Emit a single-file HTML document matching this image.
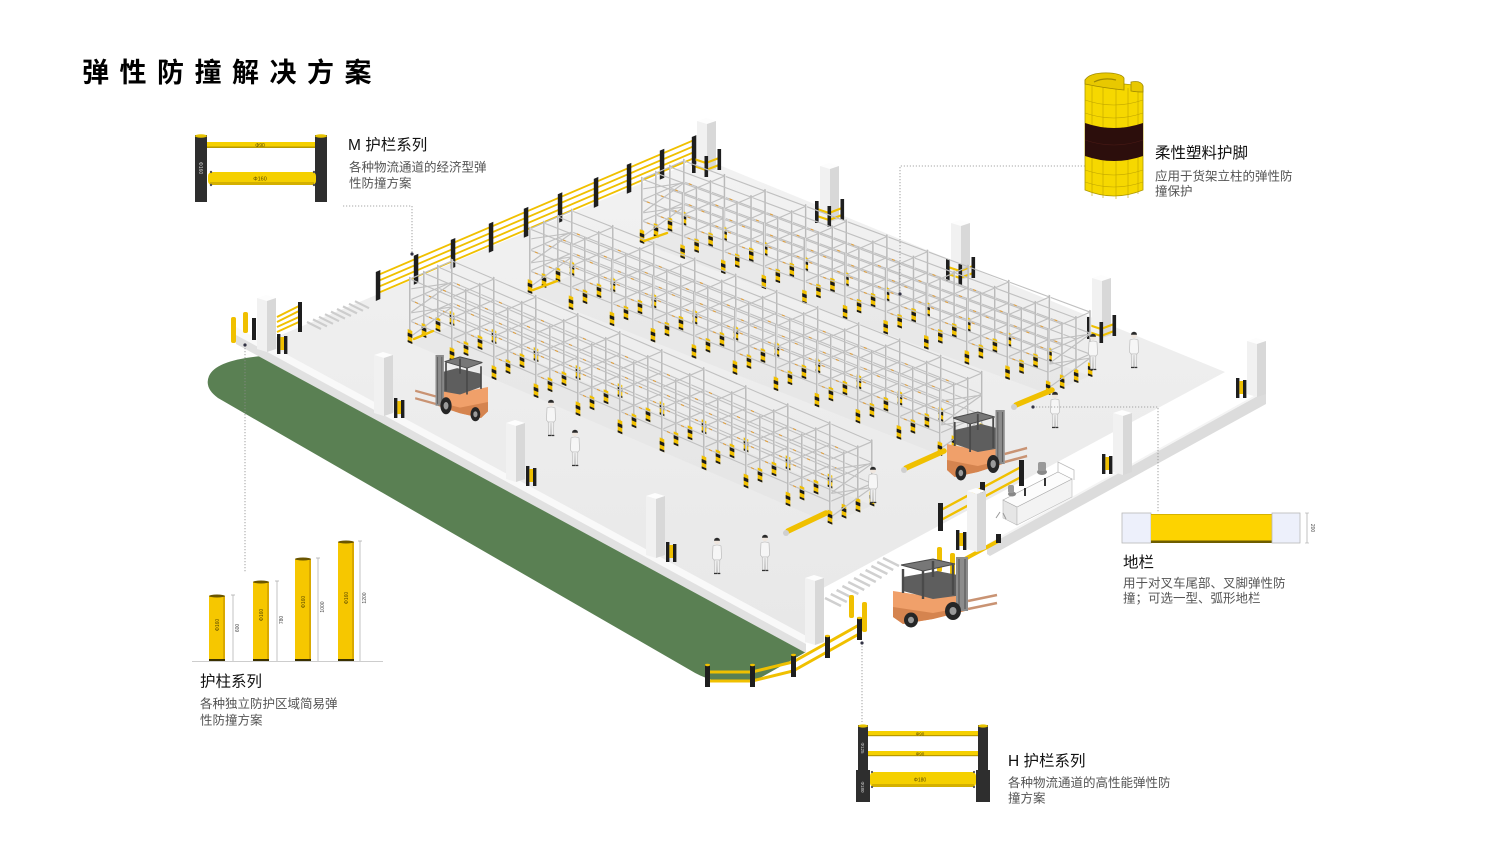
<!DOCTYPE html>
<html><head><meta charset="utf-8">
<style>
html,body{margin:0;padding:0;background:#fff;}
svg{display:block;}
text{font-family:"Liberation Sans","Noto Sans CJK SC",sans-serif;}
</style></head>
<body>
<svg width="1505" height="850" viewBox="0 0 1505 850" xmlns="http://www.w3.org/2000/svg" xmlns:xlink="http://www.w3.org/1999/xlink">
<defs>
<linearGradient id="flr" x1="0" y1="0" x2="0" y2="1">
<stop offset="0" stop-color="#f2f2f2"/><stop offset="1" stop-color="#e8e8e8"/>
</linearGradient>
<g id="up">
<line x1="0" y1="0" x2="0" y2="-66" stroke="#bababa" stroke-width="1.9"/>
<line x1="0.9" y1="-14" x2="0.9" y2="-66" stroke="#f7f7f7" stroke-width="0.6"/>
<rect x="-2.3" y="-13" width="4.6" height="13" fill="#f1c000"/>
<rect x="-2.3" y="-9.5" width="4.6" height="3.5" fill="#1b1b1b"/>
<rect x="-2.3" y="-2" width="4.6" height="2" fill="#1b1b1b"/>
</g>
<g id="row">
<path d="M0,-22H420M0,-43H420M0,-64H420" stroke="#c0c0c0" stroke-width="1.2" fill="none"/>
<path d="M5,-22H420M5,-43H420" stroke="#e0a040" stroke-width="1.2" stroke-dasharray="3 39" fill="none"/>
<use href="#up" x="0"/><use href="#up" x="42"/><use href="#up" x="84"/><use href="#up" x="126"/><use href="#up" x="168"/><use href="#up" x="210"/><use href="#up" x="252"/><use href="#up" x="294"/><use href="#up" x="336"/><use href="#up" x="378"/><use href="#up" x="420"/>
</g>
<g id="grd">
<path d="M-3,-14 L9,-10 L22,-15 M-3,-7 L9,-3 L22,-8" stroke="#f0c000" stroke-width="2.2" fill="none"/>
<rect x="-5" y="-22" width="3.6" height="22" fill="#1e1e1e"/>
<rect x="7.5" y="-17" width="3.6" height="21" fill="#1e1e1e"/>
<rect x="20.5" y="-24" width="3.6" height="21" fill="#1e1e1e"/>
</g>
<g id="grd2">
<rect x="0" y="-20" width="3.4" height="20" fill="#1e1e1e"/>
<rect x="3.4" y="-17" width="3.6" height="13" fill="#f0c000"/>
<rect x="7" y="-18" width="3.4" height="18" fill="#1e1e1e"/>
</g>
<g id="fk">
<polygon points="0,34 40,40 72,36 72,54 40,62 10,67 0,60" fill="#f0a06a"/>
<polygon points="0,50 40,56 72,50 72,54 40,62 10,67 0,60" fill="#d5844f"/>
<polygon points="10,20 44,14 70,19 70,38 40,42 10,34" fill="#5e5e5e"/>
<polygon points="8,8 40,2 62,7 30,14" fill="#777" stroke="#4a4a4a" stroke-width="1"/>
<path d="M10,12V36M30,14V42M60,8V38M40,4V20" stroke="#4a4a4a" stroke-width="2.4"/>
<rect x="63" y="0" width="12" height="54" fill="#8c8c8c"/>
<path d="M66,2V52M72,2V52" stroke="#5a5a5a" stroke-width="1.2"/>
<path d="M75,44 L104,38 M75,52 L104,46" stroke="#c99373" stroke-width="2.5"/>
<ellipse cx="18" cy="63" rx="7" ry="7.5" fill="#262626"/><ellipse cx="18" cy="63" rx="3" ry="3.2" fill="#9a9a9a"/>
<ellipse cx="60" cy="54" rx="8" ry="9" fill="#262626"/><ellipse cx="60" cy="54" rx="3.5" ry="4" fill="#9a9a9a"/>
</g>
<g id="ps">
<circle cx="5" cy="3.2" r="3" fill="#efe6de"/>
<path d="M2,2.8 A3,3 0 0 1 8,2.8 Z" fill="#2a2a2a"/>
<path d="M1,8 Q5,6 9,8 L9.5,20 L8,22 L2,22 L0.5,20 Z" fill="#f6f6f6" stroke="#b5b5b5" stroke-width="0.6"/>
<path d="M2.2,22 L2.5,35 L4.6,35 L5,23 L5.4,35 L7.6,35 L7.8,22 Z" fill="#efefef" stroke="#b5b5b5" stroke-width="0.6"/>
<path d="M2,35.5h3M5.3,35.5h3" stroke="#333" stroke-width="1.2"/>
</g>
</defs>

<rect width="1505" height="850" fill="#fff"/>

<!-- green area -->
<path d="M262,356 L806,652 L760,678 Q722,690 690,670 L218,398 Q204,388 209,376 Q216,360 262,356 Z" fill="#5a8053"/>

<!-- floor -->
<path d="M262,343 L702,158 L1225,372 L812,594 L806,636 Z" fill="url(#flr)"/>

<!-- front-left wall band -->
<path d="M236,327 L806,636 L806,644 L236,335 Z" fill="#f9f9f9"/>
<path d="M236,335 L806,644 L806,653 L236,344 Z" fill="#e1e1e1"/>

<!-- right wall -->
<path d="M987,545 L1263,392 L1266,394 L1266,404 L990,556 L987,554 Z" fill="#dcdcdc"/>
<path d="M987,545 L1263,392" stroke="#f4f4f4" stroke-width="2"/>

<!-- crosswalks -->
<path d="M307,322l14,7M313,319.4l14,7M319,316.8l14,7M325,314.2l14,7M331,311.6l14,7M337,309l14,7M343,306.4l14,7M349,303.8l14,7M355,301.2l14,7" stroke="#cdcdcd" stroke-width="2.2"/>
<path d="M825,598l16,8M830.8,594l16,8M836.6,590l16,8M842.4,586l16,8M848.2,582l16,8M854,578l16,8M859.8,574l16,8M865.6,570l16,8M871.4,566l16,8M877.2,562l16,8M883,558l16,8" stroke="#d0d0d0" stroke-width="2.5"/>

<!-- back M fence -->
<g transform="matrix(1 -0.427 0 1 378 300)">
<path d="M0,-25H318M0,-19H318M0,-13H318M0,-7H318" stroke="#f0c000" stroke-width="2" fill="none"/>
<g fill="#1e1e1e">
<rect x="-2.2" y="-29" width="4.5" height="29"/><rect x="35.8" y="-29" width="4.5" height="29"/><rect x="72.8" y="-29" width="4.5" height="29"/><rect x="110.8" y="-29" width="4.5" height="29"/><rect x="145.8" y="-29" width="4.5" height="29"/><rect x="179.8" y="-29" width="4.5" height="29"/><rect x="215.8" y="-29" width="4.5" height="29"/><rect x="248.8" y="-29" width="4.5" height="29"/><rect x="281.8" y="-29" width="4.5" height="29"/><rect x="313.8" y="-29" width="4.5" height="29"/>
</g>
</g>

<!-- back pillars -->
<g>
<path d="M697,121L706,118L716,121L707,124Z" fill="#fdfdfd"/><path d="M697,121L707,124L707,172L697,169Z" fill="#f1f1f1"/><path d="M707,124L716,121L716,169L707,172Z" fill="#d8d8d8"/>
<path d="M820,166L829,163L839,166L830,169Z" fill="#fdfdfd"/><path d="M820,166L830,169L830,222L820,219Z" fill="#f1f1f1"/><path d="M830,169L839,166L839,219L830,222Z" fill="#d8d8d8"/>
<path d="M951,223L960,220L970,223L961,226Z" fill="#fdfdfd"/><path d="M951,223L961,226L961,280L951,277Z" fill="#f1f1f1"/><path d="M961,226L970,223L970,277L961,280Z" fill="#d8d8d8"/>
<path d="M1092,278L1101,275L1111,278L1102,281Z" fill="#fdfdfd"/><path d="M1092,278L1102,281L1102,338L1092,335Z" fill="#f1f1f1"/><path d="M1102,281L1111,278L1111,335L1102,338Z" fill="#d8d8d8"/>
</g>
<use href="#grd" x="697" y="173"/>
<use href="#grd" x="820" y="223"/>
<use href="#grd" x="951" y="281"/>
<use href="#grd" x="1092" y="339"/>

<!-- rack footprints -->
<path d="M410,343 L830,523.6 L872,505.5 L452,325 Z" fill="#dcdcdc" opacity="0.3"/>
<path d="M530,293 L940,455 L982,437 L572,275 Z" fill="#dcdcdc" opacity="0.3"/>
<path d="M642,243 L1048,394 L1090,376 L684,225 Z" fill="#dcdcdc" opacity="0.3"/>

<!-- rack group B -->
<g transform="matrix(0.967 0.36 0 1 642 243)">
<use href="#row" x="43.44" y="-33.69"/>
<use href="#row" x="28.96" y="-22.46"/>
<use href="#row" x="14.48" y="-11.23"/>
<path d="M0,-64l43.4,-33.7M42,-64l43.4,-33.7M84,-64l43.4,-33.7M126,-64l43.4,-33.7M168,-64l43.4,-33.7M210,-64l43.4,-33.7M252,-64l43.4,-33.7M294,-64l43.4,-33.7M336,-64l43.4,-33.7M378,-64l43.4,-33.7M420,-64l43.4,-33.7M0,-43l43.4,-33.7M42,-43l43.4,-33.7M84,-43l43.4,-33.7M126,-43l43.4,-33.7M168,-43l43.4,-33.7M210,-43l43.4,-33.7M252,-43l43.4,-33.7M294,-43l43.4,-33.7M336,-43l43.4,-33.7M378,-43l43.4,-33.7M420,-43l43.4,-33.7M0,-22l43.4,-33.7M42,-22l43.4,-33.7M84,-22l43.4,-33.7M126,-22l43.4,-33.7M168,-22l43.4,-33.7M210,-22l43.4,-33.7M252,-22l43.4,-33.7M294,-22l43.4,-33.7M336,-22l43.4,-33.7M378,-22l43.4,-33.7M420,-22l43.4,-33.7M0,-6L43.4,-51.7L0,-30L43.4,-75.7L0,-54M420,-6L463.4,-51.7L420,-30L463.4,-75.7L420,-54" stroke="#c0c0c0" stroke-width="1" fill="none"/>
<use href="#row"/>
</g>

<!-- rack group M -->
<g transform="matrix(0.976 0.386 0 1 530 293)">
<use href="#row" x="43.02" y="-34.68"/>
<use href="#row" x="28.68" y="-23.12"/>
<use href="#row" x="14.34" y="-11.56"/>
<path d="M0,-64l43,-34.7M42,-64l43,-34.7M84,-64l43,-34.7M126,-64l43,-34.7M168,-64l43,-34.7M210,-64l43,-34.7M252,-64l43,-34.7M294,-64l43,-34.7M336,-64l43,-34.7M378,-64l43,-34.7M420,-64l43,-34.7M0,-43l43,-34.7M42,-43l43,-34.7M84,-43l43,-34.7M126,-43l43,-34.7M168,-43l43,-34.7M210,-43l43,-34.7M252,-43l43,-34.7M294,-43l43,-34.7M336,-43l43,-34.7M378,-43l43,-34.7M420,-43l43,-34.7M0,-22l43,-34.7M42,-22l43,-34.7M84,-22l43,-34.7M126,-22l43,-34.7M168,-22l43,-34.7M210,-22l43,-34.7M252,-22l43,-34.7M294,-22l43,-34.7M336,-22l43,-34.7M378,-22l43,-34.7M420,-22l43,-34.7M0,-6L43,-52.7L0,-30L43,-76.7L0,-54M420,-6L463,-52.7L420,-30L463,-76.7L420,-54" stroke="#c0c0c0" stroke-width="1" fill="none"/>
<use href="#row"/>
</g>

<!-- rack group A -->
<g transform="matrix(1 0.43 0 1 410 343)">
<use href="#row" x="42" y="-36.12"/>
<use href="#row" x="28" y="-24.08"/>
<use href="#row" x="14" y="-12.04"/>
<path d="M0,-64l42,-36.1M42,-64l42,-36.1M84,-64l42,-36.1M126,-64l42,-36.1M168,-64l42,-36.1M210,-64l42,-36.1M252,-64l42,-36.1M294,-64l42,-36.1M336,-64l42,-36.1M378,-64l42,-36.1M420,-64l42,-36.1M0,-43l42,-36.1M42,-43l42,-36.1M84,-43l42,-36.1M126,-43l42,-36.1M168,-43l42,-36.1M210,-43l42,-36.1M252,-43l42,-36.1M294,-43l42,-36.1M336,-43l42,-36.1M378,-43l42,-36.1M420,-43l42,-36.1M0,-22l42,-36.1M42,-22l42,-36.1M84,-22l42,-36.1M126,-22l42,-36.1M168,-22l42,-36.1M210,-22l42,-36.1M252,-22l42,-36.1M294,-22l42,-36.1M336,-22l42,-36.1M378,-22l42,-36.1M420,-22l42,-36.1M0,-6L42,-54.1L0,-30L42,-78.1L0,-54M420,-6L462,-54.1L420,-30L462,-78.1L420,-54" stroke="#c0c0c0" stroke-width="1" fill="none"/>
<use href="#row"/>
</g>

<!-- rack floor guards -->
<g stroke="#f0c000" stroke-linecap="round" fill="none">
<path d="M414,339L433,331M533,290L557,281M644,241L667,233" stroke-width="2.5"/>
<path d="M788,531L826,513M906,468L944,451M1016,405L1052,390" stroke-width="5.5"/>
</g>
<circle cx="786" cy="533" r="3" fill="#cfcfcf"/><circle cx="904" cy="470" r="3" fill="#cfcfcf"/><circle cx="1014" cy="407" r="3" fill="#cfcfcf"/>

<!-- office -->
<g>
<path d="M1003,500 L1017,507 L1017,525 L1003,518 Z" fill="#e6e6e6" stroke="#bbb" stroke-width="0.6"/>
<path d="M1017,507 L1072,479 L1072,497 L1017,525 Z" fill="#f3f3f3" stroke="#bbb" stroke-width="0.6"/>
<path d="M1003,500 L1058,472 L1072,479 L1017,507 Z" fill="#fcfcfc" stroke="#aaa" stroke-width="0.6"/>
<path d="M1058,472 L1058,462 L1074,470 L1074,480" fill="none" stroke="#bbb" stroke-width="0.8"/>
<rect x="1024" y="488" width="2" height="8" fill="#333"/><rect x="1044" y="478" width="2" height="8" fill="#333"/>
<ellipse cx="1042" cy="472" rx="5" ry="3" fill="#8a8a8a"/><rect x="1038" y="462" width="8" height="9" rx="2" fill="#999"/>
<ellipse cx="1012" cy="494" rx="4" ry="2.5" fill="#888"/><rect x="1008" y="485" width="6" height="8" rx="2" fill="#9a9a9a"/>
<path d="M1000,512 l-4,6 M1003,513 l3,6" stroke="#999" stroke-width="1"/>
</g>

<!-- H fence near office -->
<path d="M941,510 L1021,467 M941,520 L1021,477" stroke="#f0c000" stroke-width="2.4"/>
<rect x="938" y="503" width="5" height="28" fill="#1e1e1e"/><rect x="980" y="482" width="5" height="25" fill="#1e1e1e"/><rect x="1019" y="460" width="5" height="26" fill="#1e1e1e"/>

<!-- people -->
<use href="#ps" x="546" y="400"/>
<use href="#ps" x="570" y="430"/>
<use href="#ps" x="712" y="538"/>
<use href="#ps" x="760" y="535"/>
<use href="#ps" x="868" y="467"/>
<use href="#ps" x="1050" y="392"/>
<use href="#ps" x="1088" y="334"/>
<use href="#ps" x="1129" y="332"/>

<!-- forklifts -->
<use href="#fk" transform="translate(488,355) scale(-0.7,0.94)"/>
<use href="#fk" transform="translate(947,410) scale(0.77,1)"/>

<!-- entrance items -->
<path d="M963,560 L1000,540" stroke="#f0c000" stroke-width="4"/>
<rect x="996" y="534" width="5" height="9" fill="#1e1e1e"/>
<rect x="937" y="547" width="5" height="25" rx="2" fill="#f0c000"/>
<rect x="950" y="553" width="5" height="24" rx="2" fill="#f0c000"/>
<use href="#fk" transform="translate(893,557)"/>

<!-- right corner & wall pillars -->
<path d="M1247,341L1256,338L1266,341L1257,344Z" fill="#fdfdfd"/><path d="M1247,341L1257,344L1257,397L1247,394Z" fill="#f1f1f1"/><path d="M1257,344L1266,341L1266,394L1257,397Z" fill="#d8d8d8"/>
<path d="M1113,413L1122,410L1132,413L1123,416Z" fill="#fdfdfd"/><path d="M1113,413L1123,416L1123,475L1113,472Z" fill="#f1f1f1"/><path d="M1123,416L1132,413L1132,472L1123,475Z" fill="#d8d8d8"/>
<path d="M967,491L976,488L986,491L977,494Z" fill="#fdfdfd"/><path d="M967,491L977,494L977,552L967,549Z" fill="#f1f1f1"/><path d="M977,494L986,491L986,549L977,552Z" fill="#d8d8d8"/>
<use href="#grd2" x="1236" y="398"/>
<use href="#grd2" x="1102" y="474"/>
<use href="#grd2" x="956" y="550"/>

<!-- front wall pillars -->
<path d="M374,355L383,352L393,355L384,358Z" fill="#fdfdfd"/><path d="M374,355L384,358L384,416L374,413Z" fill="#f1f1f1"/><path d="M384,358L393,355L393,413L384,416Z" fill="#d8d8d8"/>
<path d="M506,423L515,420L525,423L516,426Z" fill="#fdfdfd"/><path d="M506,423L516,426L516,482L506,479Z" fill="#f1f1f1"/><path d="M516,426L525,423L525,479L516,482Z" fill="#d8d8d8"/>
<path d="M646,496L655,493L665,496L656,499Z" fill="#fdfdfd"/><path d="M646,496L656,499L656,558L646,555Z" fill="#f1f1f1"/><path d="M656,499L665,496L665,555L656,558Z" fill="#d8d8d8"/>
<path d="M805,578L814,575L824,578L815,581Z" fill="#fdfdfd"/><path d="M805,578L815,581L815,645L805,642Z" fill="#f1f1f1"/><path d="M815,581L824,578L824,642L815,645Z" fill="#d8d8d8"/>
<use href="#grd2" x="394" y="418"/>
<use href="#grd2" x="526" y="486"/>
<use href="#grd2" x="666" y="562"/>

<!-- green fence + bollards -->
<path d="M707,672 L752,672 L793,662 L827,643 L859,625" stroke="#f0c000" stroke-width="3" fill="none"/>
<path d="M707,681 L752,681 L793,671 L827,652 L859,634" stroke="#f0c000" stroke-width="3" fill="none"/>
<g fill="#1e1e1e"><rect x="705" y="665" width="5" height="22"/><rect x="750" y="665" width="5" height="22"/><rect x="791" y="655" width="5" height="22"/><rect x="825" y="636" width="5" height="22"/><rect x="857" y="618" width="5" height="22"/></g>
<g fill="#f0c000"><ellipse cx="707.5" cy="665" rx="2.5" ry="1.2"/><ellipse cx="752.5" cy="665" rx="2.5" ry="1.2"/><ellipse cx="793.5" cy="655" rx="2.5" ry="1.2"/><ellipse cx="827.5" cy="636" rx="2.5" ry="1.2"/><ellipse cx="859.5" cy="618" rx="2.5" ry="1.2"/></g>
<rect x="849" y="595" width="5" height="23" rx="2" fill="#f0c000"/>
<rect x="862" y="602" width="5" height="30" rx="2" fill="#f0c000"/>

<!-- left end -->
<path d="M257,298L266,295L276,298L267,301Z" fill="#fdfdfd"/><path d="M257,298L267,301L267,352L257,349Z" fill="#f1f1f1"/><path d="M267,301L276,298L276,349L267,352Z" fill="#d8d8d8"/>
<rect x="252" y="318" width="4" height="22" fill="#1e1e1e"/>
<path d="M277,317L301,305M277,322L301,310M277,327L301,316M277,332L301,321" stroke="#f0c000" stroke-width="2"/>
<rect x="298" y="302" width="4" height="30" fill="#1e1e1e"/>
<use href="#grd2" x="277" y="354"/>
<rect x="231" y="317" width="5" height="26" rx="2" fill="#f0c000"/>
<rect x="243" y="312" width="5" height="21" rx="2" fill="#f0c000"/>

<!-- leader lines -->
<g stroke="#8a8a8a" stroke-width="0.8" stroke-dasharray="1.2 1.8" fill="none">
<path d="M343,206H412V254"/>
<path d="M1085,166H900V294"/>
<path d="M245,345V573"/>
<path d="M1033,407H1158V513"/>
<path d="M862,643V722"/>
</g>
<g fill="#334"><circle cx="412" cy="254" r="1.6"/><circle cx="900" cy="294" r="1.6"/><circle cx="245" cy="345" r="1.6"/><circle cx="1033" cy="407" r="1.6"/><circle cx="862" cy="643" r="1.6"/></g>

<!-- title -->
<text x="82" y="82" font-size="27" font-weight="bold" letter-spacing="10.5" fill="#000">弹性防撞解决方案</text>

<!-- M fence product -->
<rect x="195" y="135" width="12" height="67" fill="#2e2e2e"/>
<rect x="315" y="135" width="12" height="67" fill="#2e2e2e"/>
<ellipse cx="201" cy="136" rx="6" ry="1.8" fill="#e6c200"/><ellipse cx="321" cy="136" rx="6" ry="1.8" fill="#e6c200"/>
<rect x="207" y="142" width="108" height="6" fill="#f5d000"/><rect x="207" y="146.5" width="108" height="1.5" fill="#b89a00"/>
<text x="260" y="146.8" font-size="5" text-anchor="middle" fill="#5a4a00">Φ90</text>
<rect x="208" y="172" width="108" height="13" rx="4" fill="#f5d000"/><rect x="210" y="182" width="104" height="3" fill="#d4b000"/>
<text x="260" y="180.5" font-size="5.5" text-anchor="middle" fill="#5a4a00">Φ160</text>
<g fill="#555"><circle cx="211" cy="172" r="1.2"/><circle cx="314" cy="172" r="1.2"/><circle cx="211" cy="185" r="1.2"/><circle cx="314" cy="185" r="1.2"/></g>
<text transform="translate(199,168) rotate(90)" font-size="5" text-anchor="middle" fill="#cfcfcf">Φ160</text>
<text x="348" y="150" font-size="15.5" fill="#111">M 护栏系列</text>
<text x="349" y="171.4" font-size="12.5" fill="#555">各种物流通道的经济型弹</text>
<text x="349" y="187.4" font-size="12.5" fill="#555">性防撞方案</text>

<!-- protector product -->
<g>
<path d="M1085,80 L1085,190 Q1114,202 1143,190 L1143,86 Z" fill="#f6d800" stroke="#b09a00" stroke-width="0.8"/>
<path d="M1092,86V196M1103,87V198M1116,87V199M1128,88V198M1138,88V194" stroke="#bfa400" stroke-width="0.6"/>
<path d="M1085,100 Q1114,110 1143,100M1085,113 Q1114,123 1143,113M1085,170 Q1114,180 1143,170M1085,182 Q1114,192 1143,182" stroke="#bfa400" stroke-width="0.6" fill="none"/>
<path d="M1085,123 L1085,156 Q1114,166 1143,156 L1143,123 Q1114,133 1085,123 Z" fill="#2c0e0c"/>
<path d="M1085,140 Q1114,150 1143,140" stroke="#4a1a16" stroke-width="0.6" fill="none"/>
<path d="M1085,80 Q1090,72 1110,73 Q1122,74 1124,78 L1124,90 Q1104,88 1085,84 Z" fill="#e8c800" stroke="#a08a00" stroke-width="0.8"/>
<path d="M1131,82 Q1141,80 1143,86 L1143,92 Q1136,92 1131,91 Z" fill="#e8c800" stroke="#a08a00" stroke-width="0.8"/>
<path d="M1094,82 Q1104,77 1116,80" stroke="#a08a00" stroke-width="1.2" fill="none"/>
</g>
<text x="1155" y="158" font-size="15.5" fill="#111">柔性塑料护脚</text>
<text x="1155" y="180.7" font-size="12.5" fill="#555">应用于货架立柱的弹性防</text>
<text x="1155" y="195.7" font-size="12.5" fill="#555">撞保护</text>

<!-- bollards product -->
<line x1="192" y1="661.5" x2="383" y2="661.5" stroke="#bcbcbc" stroke-width="0.8"/>
<g fill="#f6c700">
<rect x="209" y="596" width="16" height="65"/><rect x="253" y="582" width="16" height="79"/><rect x="295" y="559" width="16" height="102"/><rect x="338" y="542" width="16" height="119"/>
</g>
<g fill="#d9a900"><rect x="223" y="596" width="2" height="65"/><rect x="267" y="582" width="2" height="79"/><rect x="309" y="559" width="2" height="102"/><rect x="352" y="542" width="2" height="119"/></g>
<g fill="#6a5500"><ellipse cx="217" cy="596" rx="8" ry="1.5"/><ellipse cx="261" cy="582" rx="8" ry="1.5"/><ellipse cx="303" cy="559" rx="8" ry="1.5"/><ellipse cx="346" cy="542" rx="8" ry="1.5"/></g>
<g fill="#3a3000"><rect x="209" y="659" width="16" height="2"/><rect x="253" y="659" width="16" height="2"/><rect x="295" y="659" width="16" height="2"/><rect x="338" y="659" width="16" height="2"/></g>
<g font-size="5" fill="#5a4a00" text-anchor="middle">
<text transform="translate(219,625) rotate(-90)">Φ160</text>
<text transform="translate(263,615) rotate(-90)">Φ160</text>
<text transform="translate(305,602) rotate(-90)">Φ160</text>
<text transform="translate(348,598) rotate(-90)">Φ160</text>
</g>
<path d="M233,595V661M231,595H235M277,581V661M275,581H279M318,558V661M316,558H320M360,541V661M358,541H362" stroke="#aaa" stroke-width="0.7"/>
<g font-size="5" fill="#444" text-anchor="middle">
<text transform="translate(239,628) rotate(-90)">600</text>
<text transform="translate(283,620) rotate(-90)">780</text>
<text transform="translate(324,607) rotate(-90)">1000</text>
<text transform="translate(366,598) rotate(-90)">1200</text>
</g>
<text x="200" y="686.5" font-size="15.5" fill="#111">护柱系列</text>
<text x="200" y="708" font-size="12.5" fill="#555">各种独立防护区域简易弹</text>
<text x="200" y="724.7" font-size="12.5" fill="#555">性防撞方案</text>

<!-- floor bar product -->
<rect x="1122" y="513" width="29" height="30" fill="#edf0fb" stroke="#b8b8b8" stroke-width="0.8"/>
<rect x="1151" y="514" width="121" height="29" fill="#fdd300"/>
<line x1="1151" y1="514.5" x2="1272" y2="514.5" stroke="#c9a800" stroke-width="0.8"/>
<rect x="1151" y="540.5" width="121" height="2.5" fill="#6e5d00"/>
<rect x="1272" y="513" width="28" height="30" fill="#edf0fb" stroke="#b8b8b8" stroke-width="0.8"/>
<path d="M1307,513V543M1305,513H1309M1305,543H1309" stroke="#999" stroke-width="0.6"/>
<text transform="translate(1311,528) rotate(90)" font-size="5" text-anchor="middle" fill="#444">200</text>
<text x="1123" y="567.5" font-size="15.5" fill="#111">地栏</text>
<text x="1123" y="587.7" font-size="12.5" fill="#555">用于对叉车尾部、叉脚弹性防</text>
<text x="1123" y="602.7" font-size="12.5" fill="#555">撞；可选一型、弧形地栏</text>

<!-- H fence product -->
<rect x="858" y="725" width="10" height="77" fill="#2e2e2e"/><rect x="856" y="770" width="14" height="32" fill="#2e2e2e"/>
<rect x="978" y="725" width="10" height="77" fill="#2e2e2e"/><rect x="976" y="770" width="14" height="32" fill="#2e2e2e"/>
<ellipse cx="863" cy="726" rx="5" ry="1.6" fill="#e6c200"/><ellipse cx="983" cy="726" rx="5" ry="1.6" fill="#e6c200"/>
<rect x="868" y="731" width="110" height="5" fill="#f5d000"/><rect x="868" y="735" width="110" height="1.2" fill="#b89a00"/>
<rect x="868" y="751" width="110" height="5" fill="#f5d000"/><rect x="868" y="755" width="110" height="1.2" fill="#b89a00"/>
<rect x="870" y="772" width="106" height="15" rx="4" fill="#f5d000"/><rect x="872" y="784" width="102" height="3" fill="#d4b000"/>
<g font-size="4.5" fill="#5a4a00" text-anchor="middle"><text x="920" y="735.3">Φ90</text><text x="920" y="755.3">Φ90</text><text x="920" y="781.5" font-size="5">Φ180</text></g>
<text transform="translate(861,748) rotate(90)" font-size="4.5" text-anchor="middle" fill="#cfcfcf">Φ125</text>
<text transform="translate(861,787) rotate(90)" font-size="4.5" text-anchor="middle" fill="#cfcfcf">Φ180</text>
<g fill="#555"><circle cx="872" cy="772" r="1.1"/><circle cx="974" cy="772" r="1.1"/><circle cx="872" cy="787" r="1.1"/><circle cx="974" cy="787" r="1.1"/></g>
<text x="1008" y="765.8" font-size="15.5" fill="#111">H 护栏系列</text>
<text x="1008" y="787" font-size="12.5" fill="#555">各种物流通道的高性能弹性防</text>
<text x="1008" y="802.4" font-size="12.5" fill="#555">撞方案</text>
</svg>
</body></html>
